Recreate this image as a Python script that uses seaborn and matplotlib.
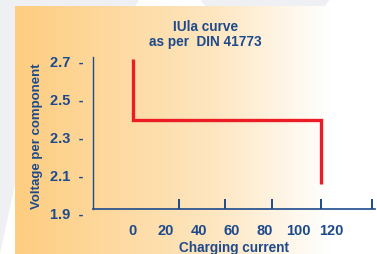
import numpy as np
import pandas as pd
import matplotlib
matplotlib.use('Agg')
import matplotlib.pyplot as plt
import seaborn as sns
from matplotlib.colors import LinearSegmentedColormap

# datos de la curva IUla
current = [0, 0, 114, 114]
voltage = [2.71, 2.39, 2.39, 2.05]
x_ticks = [0, 20, 40, 60, 80, 100, 120]
x_marks = [0, 28, 56, 84, 114, 145]
y_ticks = [1.9, 2.1, 2.3, 2.5, 2.7]

azul = '#1d4a8c'
rojo = '#ec1c24'

sns.set_theme(style='white')
plt.rcParams['font.family'] = ['Liberation Sans', 'DejaVu Sans']
plt.rcParams['font.weight'] = 'bold'

fig = plt.figure(figsize=(3.77, 2.55), dpi=100)
fig.patch.set_facecolor('#eef0f4')

# fondo: formas blancas y degradado naranja
bg = fig.add_axes([0, 0, 1, 1], zorder=-10)
bg.set_xlim(0, 377)
bg.set_ylim(255, 0)
bg.axis('off')
bg.fill([0, 15, 15, 0], [255, 185, 255, 255], color='white', lw=0)
bg.fill([135, 140, 200, 205], [7, 0, 0, 7], color='white', lw=0)
bg.fill([325, 330, 377, 377], [7, 0, 0, 7], color='white', lw=0)
cmap = LinearSegmentedColormap.from_list('grad', [(0, '#fdcd80'), (0.55, '#fee6c0'), (0.87, '#ffffff'), (1, '#ffffff')])
grad = np.linspace(0, 1, 256).reshape(1, -1)
bg.imshow(grad, cmap=cmap, aspect='auto', extent=(15, 377, 255, 7))

ax = fig.add_axes([0.2467, 0.1608, 0.748, 0.611])
ax.set_facecolor('none')
df = pd.DataFrame({'Corriente': current, 'Voltaje': voltage})
sns.lineplot(data=df, x='Corriente', y='Voltaje', sort=False, estimator=None,
             color=rojo, linewidth=2.4, ax=ax)
for l in ax.lines:
    l.set_solid_joinstyle('miter')
    l.set_solid_capstyle('butt')

ax.set_xlim(-24.2, 146.7)
ax.set_ylim(1.9, 2.72)

for s in ['top', 'right']:
    ax.spines[s].set_visible(False)
ax.spines['left'].set_color(azul)
ax.spines['bottom'].set_color(azul)
ax.spines['left'].set_linewidth(1.0)
ax.spines['bottom'].set_linewidth(1.2)
ax.spines['bottom'].set_position(('data', 1.921))
ax.spines['left'].set_bounds(1.921, 2.72)

ax.set_xticks(x_ticks)
ax.set_xticklabels([str(t) for t in x_ticks])
ax.set_xticks(x_marks, minor=True)
ax.tick_params(axis='x', which='major', length=0, pad=10, labelsize=10.5, labelcolor=azul)
ax.tick_params(axis='x', which='minor', direction='in', length=7, width=1.4, color=azul, bottom=True)

ax.set_yticks(y_ticks)
ax.set_yticklabels([f'{t:.1f}  -' for t in y_ticks])
ax.tick_params(axis='y', length=0, pad=7, labelsize=10.5, labelcolor=azul)
for lab in ax.get_xticklabels() + ax.get_yticklabels():
    lab.set_fontweight('bold')

ax.set_xlabel('Charging current', color=azul, fontsize=9.8, fontweight='bold', labelpad=2)
ax.set_ylabel('Voltage per component', color=azul, fontsize=9.5, fontweight='bold', labelpad=5)
fig.text(0.545, 0.865, 'IUla curve\nas per  DIN 41773', ha='center', va='center',
         color=azul, fontsize=9.8, fontweight='bold', linespacing=1.15)

plt.savefig('out.png', dpi=100)
